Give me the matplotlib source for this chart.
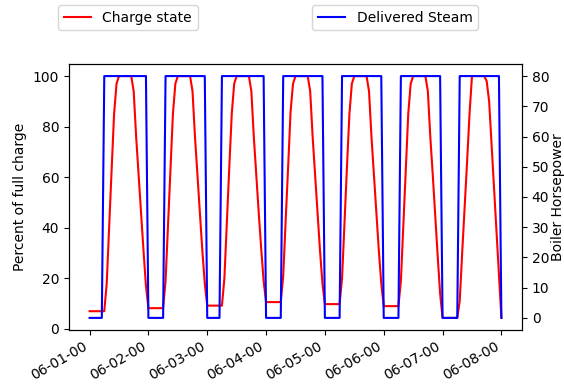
import numpy as np
import pandas as pd
import matplotlib
matplotlib.use("Agg")
import matplotlib.pyplot as plt
import matplotlib.dates as mdates

#%% data, hourly from 06-01-00 00:00 to 06-08-00 00:00
# charge state (percent of full charge), one list of 24 hourly values per day
charge_d1 = [7.0, 7.0, 7.0, 7.0, 7.0, 7.0, 7.0, 18, 41, 63, 85, 97, 100, 100, 100, 100, 100, 100, 94, 76, 61, 46, 31, 17]
charge_d2 = [8.2, 8.2, 8.2, 8.2, 8.2, 8.2, 8.2, 19, 41, 63, 85, 97, 100, 100, 100, 100, 100, 100, 94, 76, 61, 46, 31, 18]
charge_d3 = [9.2, 9.2, 9.2, 9.2, 9.2, 9.2, 9.2, 20, 42, 64, 85, 97, 100, 100, 100, 100, 100, 100, 94, 76, 61, 46, 32, 19]
charge_d4 = [10.6, 10.6, 10.6, 10.6, 10.6, 10.6, 10.6, 21, 43, 64, 86, 97, 100, 100, 100, 100, 100, 100, 94, 76, 61, 46, 31, 18]
charge_d5 = [9.8, 9.8, 9.8, 9.8, 9.8, 9.8, 9.8, 20, 42, 64, 85, 97, 100, 100, 100, 100, 100, 100, 94, 76, 61, 46, 31, 18]
charge_d6 = [9.0, 9.0, 9.0, 9.0, 9.0, 9.0, 9.0, 19, 41, 63, 85, 97, 100, 100, 100, 100, 100, 100, 94, 76, 61, 45, 29, 14]
charge_d7 = [4.35, 4.35, 4.35, 4.35, 4.35, 4.35, 4.35, 11, 30, 48, 66, 85, 100, 100, 100, 100, 100, 100, 98, 90, 73, 56, 39, 22]
charge_end = [4.35]

# delivered steam (boiler horsepower)
steam_d1 = [0, 0, 0, 0, 0, 0, 80, 80, 80, 80, 80, 80, 80, 80, 80, 80, 80, 80, 80, 80, 80, 80, 80, 80]
steam_d2 = [0, 0, 0, 0, 0, 0, 0, 80, 80, 80, 80, 80, 80, 80, 80, 80, 80, 80, 80, 80, 80, 80, 80, 80]
steam_d3 = [0, 0, 0, 0, 0, 0, 80, 80, 80, 80, 80, 80, 80, 80, 80, 80, 80, 80, 80, 80, 80, 80, 80, 80]
steam_d4 = [0, 0, 0, 0, 0, 0, 0, 80, 80, 80, 80, 80, 80, 80, 80, 80, 80, 80, 80, 80, 80, 80, 80, 80]
steam_d5 = [0, 0, 0, 0, 0, 0, 0, 80, 80, 80, 80, 80, 80, 80, 80, 80, 80, 80, 80, 80, 80, 80, 80, 80]
steam_d6 = [0, 0, 0, 0, 0, 0, 0, 80, 80, 80, 80, 80, 80, 80, 80, 80, 80, 80, 80, 80, 80, 80, 80, 80]
steam_d7 = [0, 0, 0, 0, 0, 0, 0, 80, 80, 80, 80, 80, 80, 80, 80, 80, 80, 80, 80, 80, 80, 80, 80, 80]
steam_end = [0]

charge = charge_d1 + charge_d2 + charge_d3 + charge_d4 + charge_d5 + charge_d6 + charge_d7 + charge_end
steam = steam_d1 + steam_d2 + steam_d3 + steam_d4 + steam_d5 + steam_d6 + steam_d7 + steam_end
times = pd.date_range("2000-06-01 00:00", periods=len(charge), freq="h")

#%% plotting
fig = plt.figure(figsize=(5.64, 3.85), dpi=100)
ax = fig.add_axes([0.1223, 0.1429, 0.8032, 0.6909])
ax2 = ax.twinx()

l1, = ax.plot(times, charge, color="red", lw=1.5, label="Charge state")
l2, = ax2.plot(times, steam, color="blue", lw=1.5, label="Delivered Steam")

ax.set_ylabel("Percent of full charge")
ax2.set_ylabel("Boiler Horsepower", labelpad=1)
ax.set_yticks([0, 20, 40, 60, 80, 100])
ax2.set_yticks([0, 10, 20, 30, 40, 50, 60, 70, 80])

ax.xaxis.set_major_locator(mdates.DayLocator())
ax.xaxis.set_major_formatter(mdates.DateFormatter("%m-%d-%y"))
for lab in ax.get_xticklabels():
    lab.set_rotation(30)
    lab.set_ha("right")

fig.legend(handles=[l1], loc="upper left", bbox_to_anchor=(58 / 564, 1 - 5 / 385), borderaxespad=0)
fig.legend(handles=[l2], loc="upper right", bbox_to_anchor=(478 / 564, 1 - 5 / 385), borderaxespad=0)

plt.savefig("out.png", dpi=100)
